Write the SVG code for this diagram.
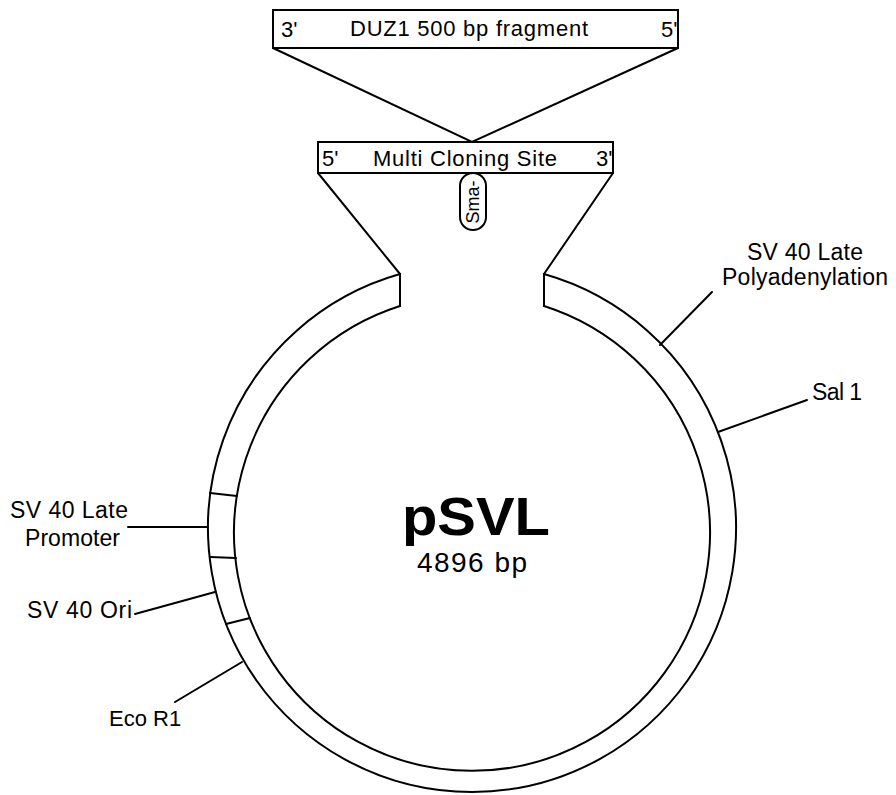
<svg xmlns="http://www.w3.org/2000/svg" width="896" height="795" viewBox="0 0 896 795">
<style>
.ln{stroke:#000;stroke-width:2;fill:none;stroke-linecap:round}
.bx{stroke:#000;stroke-width:2;fill:#fff}
.t{font-family:"Liberation Sans",Arial,sans-serif;fill:#000}
.lab{font-size:23px}
.box{font-size:22px}
</style>
<rect width="896" height="795" fill="#fff"/>
<g id="connectors">
  <path class="ln" d="M273,48 L472,142 L678,48"/>
  <path class="ln" d="M318,173 L400,274"/>
  <path class="ln" d="M613,173 L544,274"/>
  <line class="ln" x1="128" y1="527" x2="208" y2="527"/>
  <line class="ln" x1="135" y1="614" x2="215" y2="592"/>
  <line class="ln" x1="175" y1="702" x2="242" y2="662"/>
  <line class="ln" x1="712" y1="292" x2="660" y2="345"/>
  <line class="ln" x1="807" y1="400" x2="718" y2="432"/>
</g>
<g id="fragment">
  <rect class="bx" x="273" y="10" width="405" height="38"/>
  <text class="t box" x="281" y="37">3'</text>
  <text class="t box" x="350" y="36" textLength="238" lengthAdjust="spacing">DUZ1 500 bp fragment</text>
  <text class="t box" x="661" y="37">5'</text>
</g>
<g id="mcs">
  <rect class="bx" x="318" y="142" width="295" height="31"/>
  <text class="t box" x="322" y="166">5'</text>
  <text class="t box" x="373" y="166" textLength="184" lengthAdjust="spacing">Multi Cloning Site</text>
  <text class="t box" x="596" y="166">3'</text>
</g>
<g id="sma">
  <rect class="bx" x="460" y="173" width="26" height="57" rx="13" ry="13"/>
  <text class="t" font-size="18" transform="translate(479,202) rotate(-90)" text-anchor="middle">Sma-</text>
</g>
<g id="plasmid">
  <path class="ln" d="M544,274 A264,264 0 1 1 400,274"/>
  <path class="ln" d="M544,306 A238,238 0 1 1 400,306"/>
  <line class="ln" x1="400" y1="274" x2="400" y2="306"/>
  <line class="ln" x1="544" y1="274" x2="544" y2="306"/>
  <line class="ln" x1="210" y1="493" x2="237" y2="496"/>
  <line class="ln" x1="210" y1="557" x2="236" y2="558"/>
  <line class="ln" x1="226" y1="624" x2="250" y2="618"/>
  <text class="t" x="402" y="535" font-size="54" font-weight="bold" textLength="148" lengthAdjust="spacingAndGlyphs">pSVL</text>
  <text class="t" x="417" y="572" font-size="28" textLength="110" lengthAdjust="spacing">4896 bp</text>
</g>
<g id="label-promoter">
  <text class="t lab" x="10" y="518" textLength="118" lengthAdjust="spacing">SV 40 Late</text>
  <text class="t lab" x="25" y="546" textLength="95" lengthAdjust="spacing">Promoter</text>
</g>
<g id="label-ori">
  <text class="t lab" x="27" y="618" textLength="105" lengthAdjust="spacing">SV 40 Ori</text>
</g>
<g id="label-eco">
  <text class="t" font-size="22" x="109" y="726">Eco R1</text>
</g>
<g id="label-polya">
  <text class="t lab" x="747" y="260" textLength="116" lengthAdjust="spacing">SV 40 Late</text>
  <text class="t lab" x="722" y="285" textLength="166" lengthAdjust="spacing">Polyadenylation</text>
</g>
<g id="label-sal">
  <text class="t lab" x="812" y="400" textLength="50" lengthAdjust="spacing">Sal 1</text>
</g>
</svg>
